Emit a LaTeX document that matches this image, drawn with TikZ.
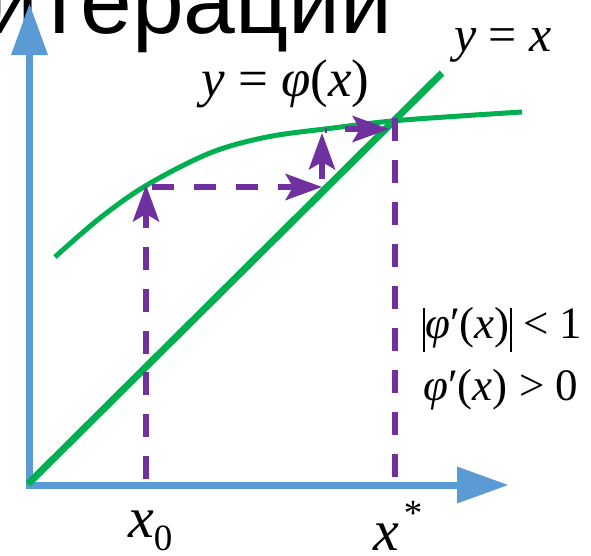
\documentclass[tikz,border=0pt]{standalone}
\usepackage{fontspec}
\setmainfont{Liberation Serif}
\newfontfamily\sansru{Liberation Sans}
\usetikzlibrary{arrows.meta}
\definecolor{axblue}{HTML}{5B9BD5}
\definecolor{grn}{HTML}{00B050}
\definecolor{purp}{HTML}{7030A0}
\begin{document}
\begin{tikzpicture}[x=1pt,y=-1pt,
  axisline/.style={draw=axblue, line width=7pt, line join=miter,
    {Triangle[length=51pt,width=37pt,line width=0pt]}-{Triangle[length=51pt,width=37pt,line width=0pt]}},
  diagline/.style={draw=grn, line width=7pt},
  curveline/.style={draw=grn, line width=5pt},
  pline/.style={draw=purp, line width=6pt},
  ptip/.style={-{Stealth[length=37pt,width=27pt,inset=8pt,line width=0pt]}},
  mathlbl/.style={inner sep=0pt, anchor=base west}]
\useasboundingbox (0,0) rectangle (591,555);

% title fragment
\node[anchor=base east, inner sep=0pt, font=\sansru\fontsize{93}{93}\selectfont] (title) at (393,33) {итерации};

% axes
\coordinate (O) at (29.5,485);
\coordinate (ytip) at (29.5,4);
\coordinate (xtip) at (508,485);
\draw[axisline] (ytip) -- (O) -- (xtip);

% green lines
\coordinate (d0) at (28,484);
\coordinate (d1) at (442,73);
\draw[diagline] (d0) -- (d1);
\draw[curveline] plot[smooth, tension=0.55] coordinates {(55,257) (100,218) (147,185) (210,153) (267,137) (333,128) (392,121) (460,116) (522,112)};

% purple construction
\coordinate (a0) at (146,479);
\coordinate (a1) at (146,185);
\draw[pline, ptip, dash pattern=on 23pt off 18.8pt] (a0) -- (a1);
\coordinate (b0) at (152,187);
\coordinate (b1) at (322,187);
\draw[pline, ptip, dash pattern=on 22pt off 20pt] (b0) -- (b1);
\coordinate (c0) at (322,179);
\coordinate (c1) at (322,133);
\draw[pline, ptip] (c0) -- (c1);
\coordinate (t0) at (326,128);
\coordinate (t1) at (326,133);
\draw[draw=purp, line width=2pt] (t0) -- (t1);
\coordinate (e0) at (345,129);
\coordinate (e1) at (389,129);
\draw[pline, ptip] (e0) -- (e1);
\coordinate (s0) at (395,118);
\coordinate (s1) at (395,477);
\draw[pline, dash pattern=on 23pt off 19pt] (s0) -- (s1);

% labels
\node[mathlbl, font=\fontsize{50}{50}\selectfont] (lyx) at (454,51) {\textit{y} = \textit{x}};
\node[mathlbl, font=\fontsize{53}{53}\selectfont] (lphi) at (201,96) {\textit{y} = \textit{φ}(\textit{x})};
\node[mathlbl, font=\fontsize{45}{45}\selectfont] (lc1) at (423,338) {\rule[-14pt]{2pt}{44pt}\textit{φ}′(\textit{x})\rule[-14pt]{2pt}{44pt} < 1};
\node[mathlbl, font=\fontsize{45}{45}\selectfont] (lc2) at (423,400) {\textit{φ}′(\textit{x}) > 0};
\node[mathlbl, font=\fontsize{58}{58}\selectfont] (lx0) at (128,537) {\textit{x}\raisebox{-13pt}{\fontsize{37}{37}\selectfont 0}};
\node[mathlbl, font=\fontsize{58}{58}\selectfont] (lxs) at (373,550) {\textit{x}\hspace{5pt}\raisebox{25pt}{\fontsize{37}{37}\selectfont *}};
\end{tikzpicture}
\end{document}
